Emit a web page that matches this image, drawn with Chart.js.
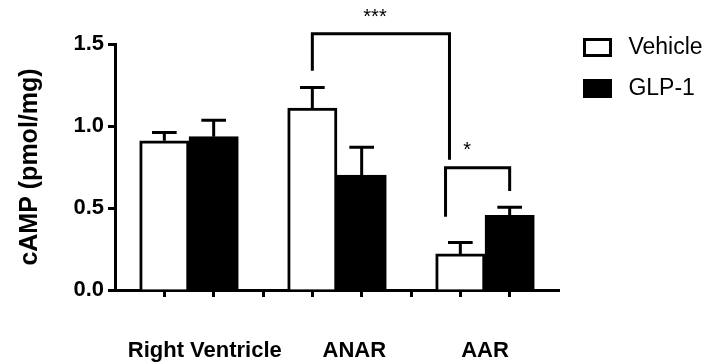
<!DOCTYPE html>
<html><head><meta charset="utf-8">
<script src="https://cdn.jsdelivr.net/npm/chart.js@4.4.1/dist/chart.umd.min.js"></script>
<style>html,body{margin:0;padding:0;background:#fff}#wrap{width:705px;height:364px}</style>
</head><body><div id="wrap"><canvas id="c" width="705" height="364"></canvas></div>
<script>
// ---- data ----
const categories = ['Right Ventricle', 'ANAR', 'AAR'];
const seriesNames = ['Vehicle', 'GLP-1'];
const vehicleMean = [0.91, 1.11, 0.22];
const vehicleSem = [0.05, 0.125, 0.07];
const glpMean = [0.935, 0.70, 0.455];
const glpSem = [0.10, 0.17, 0.05];
const yTickValues = [0, 0.5, 1.0, 1.5];
const sigLabels = ['***', '*'];

// ---- layout (slot units on x, data units on y) ----
const groupStride = 3;
const slotValues = [];
categories.forEach((c, i) => { slotValues.push(i * groupStride, i * groupStride + 1); if (i < categories.length - 1) slotValues.push(i * groupStride + 2); });
const labelShift = [0.32, 0.35, 0];
const labelValues = categories.map((c, i) => i * groupStride + 0.5 + labelShift[i]);
const brackets = [
  {x1: 3, x2: 5.78, yTop: 1.563, y1: 1.337, y2: 0.794, tx: 4.27, ty: 1.63, text: sigLabels[0]},
  {x1: 5.70, x2: 7, yTop: 0.745, y1: 0.446, y2: 0.604, tx: 6.14, ty: 0.815, text: sigLabels[1]}
];

const FAM = '"Liberation Sans", Arial, Helvetica, sans-serif';
const boldFont = {family: FAM, size: 22, weight: 'bold'};

const annot = {
  id: 'annot',
  afterDatasetsDraw(chart) {
    const {ctx} = chart;
    const x = chart.scales.x, y = chart.scales.y;
    ctx.save();
    ctx.strokeStyle = '#000';
    ctx.lineWidth = 3;
    ctx.lineCap = 'butt';
    ctx.lineJoin = 'miter';
    chart.data.datasets.forEach((ds, di) => {
      const meta = chart.getDatasetMeta(di);
      meta.data.forEach((bar, i) => {
        const p = ds.data[i];
        const yTop = y.getPixelForValue(p.y + ds.errors[i]);
        const half = bar.width * 0.25;
        ctx.beginPath();
        ctx.moveTo(bar.x, bar.y);
        ctx.lineTo(bar.x, yTop);
        ctx.moveTo(bar.x - half, yTop);
        ctx.lineTo(bar.x + half, yTop);
        ctx.stroke();
      });
    });
    brackets.forEach(b => {
      const X1 = x.getPixelForValue(b.x1), X2 = x.getPixelForValue(b.x2);
      const YT = y.getPixelForValue(b.yTop);
      ctx.beginPath();
      ctx.moveTo(X1, y.getPixelForValue(b.y1));
      ctx.lineTo(X1, YT);
      ctx.lineTo(X2, YT);
      ctx.lineTo(X2, y.getPixelForValue(b.y2));
      ctx.stroke();
      ctx.fillStyle = '#000';
      ctx.font = '20px ' + FAM;
      ctx.textAlign = 'center';
      ctx.textBaseline = 'alphabetic';
      ctx.fillText(b.text, x.getPixelForValue(b.tx), y.getPixelForValue(b.ty));
    });
    ctx.restore();
  }
};

new Chart(document.getElementById('c'), {
  type: 'bar',
  data: {
    datasets: [
      {label: seriesNames[0], data: vehicleMean.map((v, i) => ({x: i * groupStride, y: v})), errors: vehicleSem,
       backgroundColor: '#fff', borderColor: '#000', borderWidth: 3, borderSkipped: 'start'},
      {label: seriesNames[1], data: glpMean.map((v, i) => ({x: i * groupStride + 1, y: v})), errors: glpSem,
       backgroundColor: '#000', borderColor: '#000', borderWidth: 3, borderSkipped: 'start'}
    ]
  },
  options: {
    responsive: false, animation: false, devicePixelRatio: 1,
    grouped: false, barPercentage: 1, categoryPercentage: 1,
    layout: {padding: {top: 18, left: 5, right: 0, bottom: 0}},
    plugins: {
      tooltip: {enabled: false},
      legend: {
        position: 'right', align: 'start', maxWidth: 138.5,
        labels: {
          boxWidth: 26, boxHeight: 16, padding: 18, color: '#000',
          font: {family: FAM, size: 23},
          generateLabels: chart => Chart.defaults.plugins.legend.labels.generateLabels(chart).map(it => Object.assign(it, {text: ' ' + it.text}))
        }
      }
    },
    scales: {
      x: {
        type: 'linear', min: -1, max: 8, offset: false, z: 1,
        afterBuildTicks: s => { s.ticks = slotValues.map(v => ({value: v})); },
        afterFit: s => { s.height = 7; },
        ticks: {display: false},
        grid: {drawOnChartArea: false, offset: false, tickLength: 7, tickWidth: 3, tickColor: '#000'},
        border: {color: '#000', width: 3}
      },
      x2: {
        type: 'linear', position: 'bottom', min: -1, max: 8, offset: false,
        afterBuildTicks: s => { s.ticks = labelValues.map(v => ({value: v})); },
        afterFit: s => { s.height = 67; },
        ticks: {autoSkip: false, maxRotation: 0, padding: 33, color: '#000', font: boldFont,
                callback: (v, i) => categories[i]},
        grid: {display: false},
        border: {display: false}
      },
      y: {
        min: 0, max: 1.5, z: 1,
        afterBuildTicks: s => { s.ticks = yTickValues.map(v => ({value: v})); },
        afterFit: s => { s.width = 110; s.paddingTop = 44; },
        ticks: {padding: 4, color: '#000', font: boldFont, callback: v => Number(v).toFixed(1)},
        grid: {drawOnChartArea: false, tickLength: 7, tickWidth: 3, tickColor: '#000'},
        border: {color: '#000', width: 3},
        title: {display: true, text: 'cAMP (pmol/mg)', color: '#000', font: {family: FAM, size: 25, weight: 'bold'}, padding: {top: 10, bottom: 0}}
      },
      gap: {
        type: 'linear', position: 'right', min: 0, max: 1,
        afterFit: s => { s.width = 7.5; },
        ticks: {display: false}, grid: {display: false}, border: {display: false}
      }
    }
  },
  plugins: [annot]
});
</script></body></html>
